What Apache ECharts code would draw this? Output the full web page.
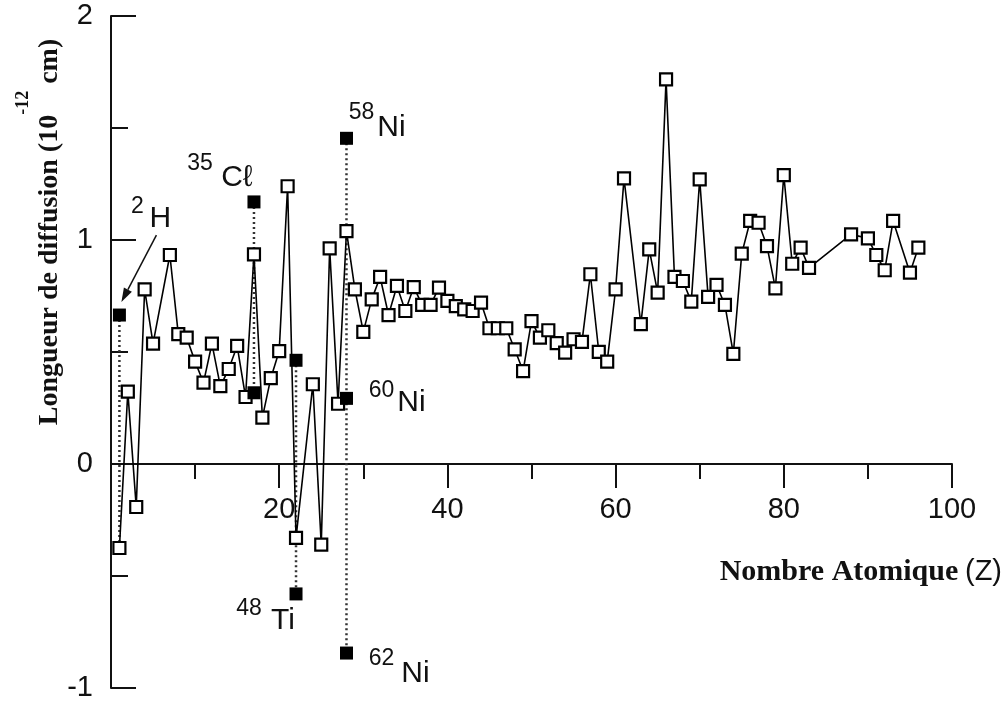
<!DOCTYPE html>
<html>
<head>
<meta charset="utf-8">
<script src="https://cdn.jsdelivr.net/npm/echarts@6/dist/echarts.min.js"></script>
<style>
  html, body { margin: 0; background: #fff; }
  #chart { width: 1008px; height: 707px; }
</style>
</head>
<body>
<div id="chart"></div>
<script>
  // éléments (carrés ouverts) : numéro atomique et longueur de diffusion (10^-12 cm)
  var elementZ = [1, 2, 3, 4, 5, 7, 8, 9, 10, 11, 12, 13, 14, 15, 16, 17, 18, 19, 20,
    21, 22, 24, 25, 26, 27, 28, 29, 30, 31, 32, 33, 34, 35, 36, 37, 38, 39, 40,
    41, 42, 43, 44, 45, 46, 47, 48, 49, 50, 51, 52, 53, 54, 55, 56, 57, 58, 59, 60,
    61, 63, 64, 65, 66, 67, 68, 69, 70, 71, 72, 73, 74, 75, 76, 77, 78, 79, 80,
    81, 82, 83, 88, 90, 91, 92, 93, 95, 96];
  var elementB = [-0.375, 0.323, -0.192, 0.78, 0.537, 0.933, 0.58, 0.564, 0.457, 0.363, 0.537, 0.348, 0.424, 0.527, 0.299, 0.936, 0.207, 0.383, 0.504,
    1.24, -0.33, 0.356, -0.36, 0.963, 0.269, 1.04, 0.78, 0.59, 0.735, 0.835, 0.665, 0.795, 0.683, 0.79, 0.71, 0.71, 0.787, 0.728,
    0.705, 0.69, 0.683, 0.72, 0.606, 0.606, 0.606, 0.512, 0.415, 0.638, 0.564, 0.597, 0.54, 0.497, 0.557, 0.545, 0.847, 0.501, 0.457, 0.78,
    1.275, 0.624, 0.958, 0.765, 1.717, 0.835, 0.817, 0.725, 1.271, 0.746, 0.8, 0.71, 0.492, 0.939, 1.085, 1.077, 0.973, 0.784, 1.29,
    0.894, 0.966, 0.876, 1.025, 1.0075, 0.933, 0.865, 1.085, 0.854, 0.966];

  // isotopes (carrés pleins)
  var isotopeZ = [1, 17, 17, 22, 22, 28, 28, 28];
  var isotopeB = [0.665, 1.17, 0.318, 0.463, -0.58, 1.454, 0.293, -0.844];
  var isotopeMass = ['2', '35', '', '', '48', '58', '60', '62'];
  var isotopeSymbol = ['H', 'C\u2113', '', '', 'Ti', 'Ni', 'Ni', 'Ni'];

  // graduations
  var xTicks = [0, 20, 40, 60, 80, 100];
  var yTicks = [-1, 0, 1, 2];

  // décalage (px) des étiquettes par rapport au carré plein : [masse dx, dy, symbole dx, dy]
  var labelOffset = {
    0: [18, -108, 41, -96],
    1: [-54, -38, -17, -24],
    4: [-47, 15, -13, 27],
    5: [15, -26, 45, -11],
    6: [35, -8, 65, 4],
    7: [35, 6, 69, 21]
  };

  var chart = echarts.init(document.getElementById('chart'));

  var elementData = elementZ.map(function (z, i) { return [z, elementB[i]]; });
  var isotopeData = isotopeZ.map(function (z, i) { return [z, isotopeB[i]]; });

  // pointillés verticaux reliant isotopes et élément
  var groups = {};
  isotopeZ.forEach(function (z, i) {
    (groups[z] = groups[z] || []).push(isotopeB[i]);
  });
  var dottedSeries = Object.keys(groups).map(function (k) {
    var z = +k;
    var vals = groups[k].concat(elementB[elementZ.indexOf(z)]);
    return {
      type: 'line',
      data: [[z, Math.max.apply(null, vals)], [z, Math.min.apply(null, vals)]],
      symbol: 'none',
      silent: true,
      z: 1,
      lineStyle: { color: '#333', width: 2.5, type: [2, 3] }
    };
  });

  var tickLine = { color: '#111', width: 2 };
  var labelFont = { fontFamily: 'Liberation Sans', fontSize: 29, color: '#111' };

  chart.setOption({
    animation: false,
    backgroundColor: '#fff',
    grid: { left: 111, right: 56, top: 16, bottom: 19, containLabel: false, outerBoundsMode: 'none' },
    xAxis: {
      type: 'value',
      position: 'bottom',
      min: xTicks[0],
      max: xTicks[xTicks.length - 1],
      interval: xTicks[1] - xTicks[0],
      axisLine: { show: true, onZero: false, lineStyle: tickLine },
      axisTick: { show: true, length: 24, lineStyle: tickLine },
      minorTick: { show: true, splitNumber: 2, length: 15, lineStyle: tickLine },
      axisLabel: Object.assign({
        show: true, margin: 31,
        formatter: function (v) { return v === xTicks[0] ? '' : String(v); }
      }, labelFont),
      splitLine: { show: false }
    },
    yAxis: {
      type: 'value',
      min: yTicks[0],
      max: yTicks[yTicks.length - 1],
      interval: yTicks[1] - yTicks[0],
      axisLine: { show: true, onZero: false, lineStyle: tickLine },
      axisTick: { show: true, inside: true, length: 25, lineStyle: tickLine },
      minorTick: { show: true, splitNumber: 2, length: 17, lineStyle: tickLine },
      axisLabel: Object.assign({ margin: 18 }, labelFont),
      splitLine: { show: false }
    },
    series: dottedSeries.concat([
      {
        type: 'line',
        data: elementData,
        symbol: 'rect',
        symbolSize: 12,
        z: 2,
        lineStyle: { color: '#000', width: 1.6 },
        itemStyle: { color: '#fff', borderColor: '#000', borderWidth: 2.2, opacity: 1 }
      },
      {
        type: 'scatter',
        data: isotopeData,
        symbol: 'rect',
        symbolSize: 13,
        z: 3,
        itemStyle: { color: '#000', opacity: 1 }
      }
    ])
  });

  // l'axe des Z passe par la longueur nulle
  var zeroY = chart.convertToPixel({ gridIndex: 0 }, [0, 0])[1];
  var bottomY = chart.convertToPixel({ gridIndex: 0 }, [0, yTicks[0]])[1];
  chart.setOption({ xAxis: { offset: zeroY - bottomY } });

  // étiquettes, flèche et titres d'axes
  var graphics = [];
  isotopeZ.forEach(function (z, i) {
    if (!isotopeSymbol[i]) return;
    var p = chart.convertToPixel({ gridIndex: 0 }, [z, isotopeB[i]]);
    var o = labelOffset[i];
    graphics.push({
      type: 'text', x: p[0] + o[0], y: p[1] + o[1], silent: true,
      style: { text: isotopeMass[i], fill: '#111', font: '23px "Liberation Sans"', align: 'center', verticalAlign: 'middle' }
    });
    graphics.push({
      type: 'text', x: p[0] + o[2], y: p[1] + o[3], silent: true,
      style: { text: isotopeSymbol[i], fill: '#111', font: '30px "Liberation Sans"', align: 'center', verticalAlign: 'middle' }
    });
  });

  // flèche vers le deutérium
  var ph = chart.convertToPixel({ gridIndex: 0 }, [isotopeZ[0], isotopeB[0]]);
  var sx = ph[0] + 37, sy = ph[1] - 80, tx = ph[0] + 2, ty = ph[1] - 13;
  var dx = tx - sx, dy = ty - sy, len = Math.sqrt(dx * dx + dy * dy);
  var ux = dx / len, uy = dy / len, hl = 14, hw = 4.5;
  var bx = tx - ux * hl, by = ty - uy * hl;
  graphics.push({
    type: 'line', silent: true,
    shape: { x1: sx, y1: sy, x2: bx, y2: by },
    style: { stroke: '#111', lineWidth: 1.5 }
  });
  graphics.push({
    type: 'polygon', silent: true,
    shape: { points: [[tx, ty], [bx - uy * hw, by + ux * hw], [bx + uy * hw, by - ux * hw]] },
    style: { fill: '#111' }
  });

  graphics.push({
    type: 'text', x: 39, y: 232, rotation: Math.PI / 2, silent: true,
    style: {
      text: '{t|Longueur de diffusion (10}{s|-12}{t| cm)}',
      align: 'center', verticalAlign: 'middle',
      rich: {
        t: { fontFamily: 'Liberation Serif', fontWeight: 'bold', fontSize: 28, fill: '#111', lineHeight: 50, verticalAlign: 'bottom' },
        s: { fontFamily: 'Liberation Serif', fontWeight: 'bold', fontSize: 18, fill: '#111', lineHeight: 10, verticalAlign: 'top' }
      }
    }
  });
  graphics.push({
    type: 'text', x: 1002, y: 572, silent: true,
    style: {
      text: '{a|Nombre Atomique}  {b|(Z)}',
      align: 'right', verticalAlign: 'middle',
      rich: {
        a: { fontFamily: 'Liberation Serif', fontWeight: 'bold', fontSize: 30, fill: '#111' },
        b: { fontFamily: 'Liberation Sans', fontSize: 29, fill: '#111' }
      }
    }
  });

  chart.setOption({ graphic: graphics });
</script>
</body>
</html>
